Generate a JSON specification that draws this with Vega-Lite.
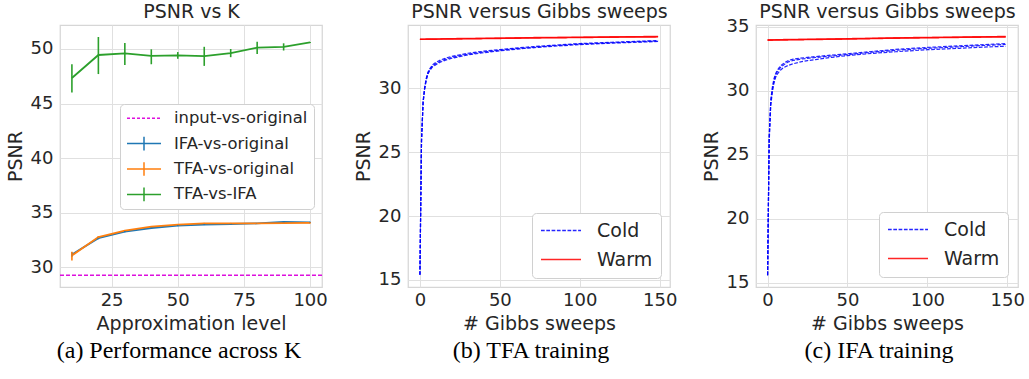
{
  "$schema": "https://vega.github.io/schema/vega-lite/v6.json",
  "background": "white",
  "padding": {"left": 5, "top": 1, "right": 0, "bottom": 0},
  "spacing": 86,
  "bounds": "flush",
  "config": {
    "view": {"stroke": "#d6d6d6", "strokeWidth": 1.25},
    "axis": {"labelFont": "DejaVu Sans", "labelFontSize": 18, "labelColor": "#262626", "titleFont": "DejaVu Sans", "titleFontSize": 19, "titleFontWeight": "normal", "titleColor": "#262626", "ticks": false, "domain": false, "gridColor": "#e0e0e0", "gridWidth": 1, "labelPadding": 7, "titlePadding": 5},
    "axisX": {"labelPadding": 4, "titlePadding": 5},
    "title": {"font": "Liberation Serif", "fontSize": 24, "fontWeight": "normal", "color": "#000000", "orient": "bottom", "anchor": "middle", "frame": "group", "offset": 6},
    "legend": {"labelFont": "DejaVu Sans", "labelColor": "#262626", "fillColor": "white", "strokeColor": "#d0d0d0", "cornerRadius": 4, "symbolStrokeWidth": 1.5}
  },
  "datasets": {
    "perf": [
      {"series": "IFA-vs-original", "k": 10, "psnr": 31.15, "lo": 30.95, "hi": 31.35},
      {"series": "IFA-vs-original", "k": 20, "psnr": 32.65, "lo": 32.55, "hi": 32.75},
      {"series": "IFA-vs-original", "k": 30, "psnr": 33.25, "lo": 33.2, "hi": 33.3},
      {"series": "IFA-vs-original", "k": 40, "psnr": 33.58, "lo": 33.53, "hi": 33.63},
      {"series": "IFA-vs-original", "k": 50, "psnr": 33.8, "lo": 33.75, "hi": 33.85},
      {"series": "IFA-vs-original", "k": 60, "psnr": 33.9, "lo": 33.85, "hi": 33.95},
      {"series": "IFA-vs-original", "k": 70, "psnr": 33.95, "lo": 33.9, "hi": 34.0},
      {"series": "IFA-vs-original", "k": 80, "psnr": 34.0, "lo": 33.95, "hi": 34.05},
      {"series": "IFA-vs-original", "k": 90, "psnr": 34.15, "lo": 34.1, "hi": 34.2},
      {"series": "IFA-vs-original", "k": 100, "psnr": 34.1, "lo": 34.05, "hi": 34.15},
      {"series": "TFA-vs-original", "k": 10, "psnr": 31.05, "lo": 30.6, "hi": 31.4},
      {"series": "TFA-vs-original", "k": 20, "psnr": 32.75, "lo": 32.65, "hi": 32.85},
      {"series": "TFA-vs-original", "k": 30, "psnr": 33.35, "lo": 33.3, "hi": 33.4},
      {"series": "TFA-vs-original", "k": 40, "psnr": 33.7, "lo": 33.65, "hi": 33.75},
      {"series": "TFA-vs-original", "k": 50, "psnr": 33.9, "lo": 33.85, "hi": 33.95},
      {"series": "TFA-vs-original", "k": 60, "psnr": 34.0, "lo": 33.95, "hi": 34.05},
      {"series": "TFA-vs-original", "k": 70, "psnr": 34.0, "lo": 33.95, "hi": 34.05},
      {"series": "TFA-vs-original", "k": 80, "psnr": 34.0, "lo": 33.95, "hi": 34.05},
      {"series": "TFA-vs-original", "k": 90, "psnr": 34.02, "lo": 33.97, "hi": 34.07},
      {"series": "TFA-vs-original", "k": 100, "psnr": 34.05, "lo": 34.0, "hi": 34.1},
      {"series": "TFA-vs-IFA", "k": 10, "psnr": 47.34, "lo": 46.0, "hi": 48.6},
      {"series": "TFA-vs-IFA", "k": 20, "psnr": 49.45, "lo": 47.7, "hi": 51.1},
      {"series": "TFA-vs-IFA", "k": 30, "psnr": 49.6, "lo": 48.53, "hi": 50.55},
      {"series": "TFA-vs-IFA", "k": 40, "psnr": 49.36, "lo": 48.6, "hi": 49.97},
      {"series": "TFA-vs-IFA", "k": 50, "psnr": 49.42, "lo": 49.1, "hi": 49.72},
      {"series": "TFA-vs-IFA", "k": 60, "psnr": 49.35, "lo": 48.45, "hi": 50.2},
      {"series": "TFA-vs-IFA", "k": 70, "psnr": 49.63, "lo": 49.25, "hi": 50.0},
      {"series": "TFA-vs-IFA", "k": 80, "psnr": 50.12, "lo": 49.55, "hi": 50.67},
      {"series": "TFA-vs-IFA", "k": 90, "psnr": 50.2, "lo": 49.86, "hi": 50.52},
      {"series": "TFA-vs-IFA", "k": 100, "psnr": 50.6, "lo": 50.55, "hi": 50.65}
    ],
    "baseline": [
      {"series": "input-vs-original", "psnr": 29.24}
    ],
    "tfa": [
      {"mode": "Cold", "run": 1, "s": 0, "v": 15.4}, {"mode": "Cold", "run": 1, "s": 1, "v": 26.0}, {"mode": "Cold", "run": 1, "s": 2, "v": 29.0}, {"mode": "Cold", "run": 1, "s": 3, "v": 30.1}, {"mode": "Cold", "run": 1, "s": 4, "v": 30.8}, {"mode": "Cold", "run": 1, "s": 5, "v": 31.25}, {"mode": "Cold", "run": 1, "s": 6, "v": 31.5}, {"mode": "Cold", "run": 1, "s": 8, "v": 31.85}, {"mode": "Cold", "run": 1, "s": 10, "v": 32.02}, {"mode": "Cold", "run": 1, "s": 13, "v": 32.22}, {"mode": "Cold", "run": 1, "s": 16, "v": 32.36}, {"mode": "Cold", "run": 1, "s": 20, "v": 32.5}, {"mode": "Cold", "run": 1, "s": 25, "v": 32.62}, {"mode": "Cold", "run": 1, "s": 30, "v": 32.74}, {"mode": "Cold", "run": 1, "s": 40, "v": 32.9}, {"mode": "Cold", "run": 1, "s": 50, "v": 33.03}, {"mode": "Cold", "run": 1, "s": 65, "v": 33.2}, {"mode": "Cold", "run": 1, "s": 80, "v": 33.34}, {"mode": "Cold", "run": 1, "s": 100, "v": 33.5}, {"mode": "Cold", "run": 1, "s": 120, "v": 33.6}, {"mode": "Cold", "run": 1, "s": 135, "v": 33.67}, {"mode": "Cold", "run": 1, "s": 149, "v": 33.73},
      {"mode": "Cold", "run": 2, "s": 0, "v": 15.4}, {"mode": "Cold", "run": 2, "s": 1, "v": 25.8}, {"mode": "Cold", "run": 2, "s": 2, "v": 28.85}, {"mode": "Cold", "run": 2, "s": 3, "v": 29.95}, {"mode": "Cold", "run": 2, "s": 4, "v": 30.65}, {"mode": "Cold", "run": 2, "s": 5, "v": 31.1}, {"mode": "Cold", "run": 2, "s": 6, "v": 31.35}, {"mode": "Cold", "run": 2, "s": 8, "v": 31.69}, {"mode": "Cold", "run": 2, "s": 10, "v": 31.85}, {"mode": "Cold", "run": 2, "s": 13, "v": 32.05}, {"mode": "Cold", "run": 2, "s": 16, "v": 32.2}, {"mode": "Cold", "run": 2, "s": 20, "v": 32.35}, {"mode": "Cold", "run": 2, "s": 25, "v": 32.48}, {"mode": "Cold", "run": 2, "s": 30, "v": 32.61}, {"mode": "Cold", "run": 2, "s": 40, "v": 32.78}, {"mode": "Cold", "run": 2, "s": 50, "v": 32.93}, {"mode": "Cold", "run": 2, "s": 65, "v": 33.11}, {"mode": "Cold", "run": 2, "s": 80, "v": 33.26}, {"mode": "Cold", "run": 2, "s": 100, "v": 33.42}, {"mode": "Cold", "run": 2, "s": 120, "v": 33.53}, {"mode": "Cold", "run": 2, "s": 135, "v": 33.6}, {"mode": "Cold", "run": 2, "s": 149, "v": 33.66},
      {"mode": "Cold", "run": 3, "s": 0, "v": 15.4}, {"mode": "Cold", "run": 3, "s": 1, "v": 25.9}, {"mode": "Cold", "run": 3, "s": 2, "v": 28.92}, {"mode": "Cold", "run": 3, "s": 3, "v": 30.02}, {"mode": "Cold", "run": 3, "s": 4, "v": 30.72}, {"mode": "Cold", "run": 3, "s": 5, "v": 31.17}, {"mode": "Cold", "run": 3, "s": 6, "v": 31.42}, {"mode": "Cold", "run": 3, "s": 8, "v": 31.77}, {"mode": "Cold", "run": 3, "s": 10, "v": 31.93}, {"mode": "Cold", "run": 3, "s": 13, "v": 32.13}, {"mode": "Cold", "run": 3, "s": 16, "v": 32.28}, {"mode": "Cold", "run": 3, "s": 20, "v": 32.42}, {"mode": "Cold", "run": 3, "s": 25, "v": 32.55}, {"mode": "Cold", "run": 3, "s": 30, "v": 32.67}, {"mode": "Cold", "run": 3, "s": 40, "v": 32.84}, {"mode": "Cold", "run": 3, "s": 50, "v": 32.98}, {"mode": "Cold", "run": 3, "s": 65, "v": 33.15}, {"mode": "Cold", "run": 3, "s": 80, "v": 33.3}, {"mode": "Cold", "run": 3, "s": 100, "v": 33.46}, {"mode": "Cold", "run": 3, "s": 120, "v": 33.56}, {"mode": "Cold", "run": 3, "s": 135, "v": 33.63}, {"mode": "Cold", "run": 3, "s": 149, "v": 33.7},
      {"mode": "Warm", "run": 4, "s": 0, "v": 33.83}, {"mode": "Warm", "run": 4, "s": 25, "v": 33.87}, {"mode": "Warm", "run": 4, "s": 50, "v": 33.91}, {"mode": "Warm", "run": 4, "s": 75, "v": 33.95}, {"mode": "Warm", "run": 4, "s": 100, "v": 33.98}, {"mode": "Warm", "run": 4, "s": 125, "v": 34.01}, {"mode": "Warm", "run": 4, "s": 149, "v": 34.03},
      {"mode": "Warm", "run": 5, "s": 0, "v": 33.85}, {"mode": "Warm", "run": 5, "s": 25, "v": 33.9}, {"mode": "Warm", "run": 5, "s": 50, "v": 33.94}, {"mode": "Warm", "run": 5, "s": 75, "v": 33.98}, {"mode": "Warm", "run": 5, "s": 100, "v": 34.01}, {"mode": "Warm", "run": 5, "s": 125, "v": 34.04}, {"mode": "Warm", "run": 5, "s": 149, "v": 34.06},
      {"mode": "Warm", "run": 6, "s": 0, "v": 33.82}, {"mode": "Warm", "run": 6, "s": 25, "v": 33.85}, {"mode": "Warm", "run": 6, "s": 50, "v": 33.89}, {"mode": "Warm", "run": 6, "s": 75, "v": 33.93}, {"mode": "Warm", "run": 6, "s": 100, "v": 33.96}, {"mode": "Warm", "run": 6, "s": 125, "v": 33.99}, {"mode": "Warm", "run": 6, "s": 149, "v": 34.01}
    ],
    "ifa": [
      {"mode": "Cold", "run": 1, "s": 0, "v": 15.6}, {"mode": "Cold", "run": 1, "s": 1, "v": 26.5}, {"mode": "Cold", "run": 1, "s": 2, "v": 29.3}, {"mode": "Cold", "run": 1, "s": 3, "v": 30.3}, {"mode": "Cold", "run": 1, "s": 4, "v": 30.95}, {"mode": "Cold", "run": 1, "s": 5, "v": 31.35}, {"mode": "Cold", "run": 1, "s": 6, "v": 31.6}, {"mode": "Cold", "run": 1, "s": 8, "v": 31.95}, {"mode": "Cold", "run": 1, "s": 10, "v": 32.15}, {"mode": "Cold", "run": 1, "s": 13, "v": 32.38}, {"mode": "Cold", "run": 1, "s": 16, "v": 32.48}, {"mode": "Cold", "run": 1, "s": 20, "v": 32.55}, {"mode": "Cold", "run": 1, "s": 25, "v": 32.62}, {"mode": "Cold", "run": 1, "s": 30, "v": 32.68}, {"mode": "Cold", "run": 1, "s": 40, "v": 32.8}, {"mode": "Cold", "run": 1, "s": 50, "v": 32.9}, {"mode": "Cold", "run": 1, "s": 65, "v": 33.08}, {"mode": "Cold", "run": 1, "s": 80, "v": 33.24}, {"mode": "Cold", "run": 1, "s": 100, "v": 33.4}, {"mode": "Cold", "run": 1, "s": 120, "v": 33.52}, {"mode": "Cold", "run": 1, "s": 135, "v": 33.62}, {"mode": "Cold", "run": 1, "s": 149, "v": 33.7},
      {"mode": "Cold", "run": 2, "s": 0, "v": 15.6}, {"mode": "Cold", "run": 2, "s": 1, "v": 26.3}, {"mode": "Cold", "run": 2, "s": 2, "v": 29.15}, {"mode": "Cold", "run": 2, "s": 3, "v": 30.15}, {"mode": "Cold", "run": 2, "s": 4, "v": 30.8}, {"mode": "Cold", "run": 2, "s": 5, "v": 31.22}, {"mode": "Cold", "run": 2, "s": 6, "v": 31.48}, {"mode": "Cold", "run": 2, "s": 8, "v": 31.82}, {"mode": "Cold", "run": 2, "s": 10, "v": 32.03}, {"mode": "Cold", "run": 2, "s": 13, "v": 32.27}, {"mode": "Cold", "run": 2, "s": 16, "v": 32.38}, {"mode": "Cold", "run": 2, "s": 20, "v": 32.47}, {"mode": "Cold", "run": 2, "s": 25, "v": 32.55}, {"mode": "Cold", "run": 2, "s": 30, "v": 32.61}, {"mode": "Cold", "run": 2, "s": 40, "v": 32.73}, {"mode": "Cold", "run": 2, "s": 50, "v": 32.84}, {"mode": "Cold", "run": 2, "s": 65, "v": 33.02}, {"mode": "Cold", "run": 2, "s": 80, "v": 33.17}, {"mode": "Cold", "run": 2, "s": 100, "v": 33.33}, {"mode": "Cold", "run": 2, "s": 120, "v": 33.45}, {"mode": "Cold", "run": 2, "s": 135, "v": 33.55}, {"mode": "Cold", "run": 2, "s": 149, "v": 33.63},
      {"mode": "Cold", "run": 3, "s": 0, "v": 15.6}, {"mode": "Cold", "run": 3, "s": 1, "v": 26.0}, {"mode": "Cold", "run": 3, "s": 2, "v": 28.9}, {"mode": "Cold", "run": 3, "s": 3, "v": 29.9}, {"mode": "Cold", "run": 3, "s": 4, "v": 30.6}, {"mode": "Cold", "run": 3, "s": 5, "v": 31.05}, {"mode": "Cold", "run": 3, "s": 6, "v": 31.3}, {"mode": "Cold", "run": 3, "s": 8, "v": 31.62}, {"mode": "Cold", "run": 3, "s": 10, "v": 31.82}, {"mode": "Cold", "run": 3, "s": 13, "v": 32.0}, {"mode": "Cold", "run": 3, "s": 16, "v": 32.12}, {"mode": "Cold", "run": 3, "s": 20, "v": 32.25}, {"mode": "Cold", "run": 3, "s": 25, "v": 32.37}, {"mode": "Cold", "run": 3, "s": 30, "v": 32.45}, {"mode": "Cold", "run": 3, "s": 40, "v": 32.62}, {"mode": "Cold", "run": 3, "s": 50, "v": 32.76}, {"mode": "Cold", "run": 3, "s": 65, "v": 32.93}, {"mode": "Cold", "run": 3, "s": 80, "v": 33.06}, {"mode": "Cold", "run": 3, "s": 100, "v": 33.22}, {"mode": "Cold", "run": 3, "s": 120, "v": 33.33}, {"mode": "Cold", "run": 3, "s": 135, "v": 33.42}, {"mode": "Cold", "run": 3, "s": 149, "v": 33.49},
      {"mode": "Warm", "run": 4, "s": 0, "v": 33.97}, {"mode": "Warm", "run": 4, "s": 25, "v": 34.02}, {"mode": "Warm", "run": 4, "s": 50, "v": 34.06}, {"mode": "Warm", "run": 4, "s": 75, "v": 34.12}, {"mode": "Warm", "run": 4, "s": 100, "v": 34.16}, {"mode": "Warm", "run": 4, "s": 125, "v": 34.2}, {"mode": "Warm", "run": 4, "s": 149, "v": 34.23},
      {"mode": "Warm", "run": 5, "s": 0, "v": 34.0}, {"mode": "Warm", "run": 5, "s": 25, "v": 34.05}, {"mode": "Warm", "run": 5, "s": 50, "v": 34.09}, {"mode": "Warm", "run": 5, "s": 75, "v": 34.15}, {"mode": "Warm", "run": 5, "s": 100, "v": 34.19}, {"mode": "Warm", "run": 5, "s": 125, "v": 34.23}, {"mode": "Warm", "run": 5, "s": 149, "v": 34.26},
      {"mode": "Warm", "run": 6, "s": 0, "v": 33.95}, {"mode": "Warm", "run": 6, "s": 25, "v": 34.0}, {"mode": "Warm", "run": 6, "s": 50, "v": 34.04}, {"mode": "Warm", "run": 6, "s": 75, "v": 34.1}, {"mode": "Warm", "run": 6, "s": 100, "v": 34.14}, {"mode": "Warm", "run": 6, "s": 125, "v": 34.18}, {"mode": "Warm", "run": 6, "s": 149, "v": 34.21}
    ]
  },
  "resolve": {"scale": {"color": "independent", "strokeDash": "independent"}, "legend": {"color": "independent", "strokeDash": "independent"}},
  "hconcat": [
    {
      "width": 262, "height": 262,
      "title": {"text": "(a) Performance across K", "dx": -12},
      "layer": [
        {
          "data": {"name": "baseline"},
          "mark": {"type": "rule", "strokeDash": [4, 2], "strokeWidth": 1.5, "opacity": 1},
          "encoding": {
            "y": {"field": "psnr", "type": "quantitative", "scale": {"domain": [28.17, 52.2], "nice": false, "zero": false}, "title": "PSNR"},
            "color": {"field": "series", "type": "nominal", "scale": {"domain": ["input-vs-original", "IFA-vs-original", "TFA-vs-original", "TFA-vs-IFA"], "range": ["#dd10dd", "#1f77b4", "#ff7f0e", "#2ca02c"]}}
          }
        },
        {
          "data": {"name": "perf"},
          "mark": {"type": "line", "strokeWidth": 1.8},
          "encoding": {
            "x": {"field": "k", "type": "quantitative", "scale": {"domain": [5.5, 104.5], "nice": false, "zero": false}, "axis": {"values": [25, 50, 75, 100], "title": "Approximation level"}},
            "y": {"field": "psnr", "type": "quantitative", "axis": {"values": [30, 35, 40, 45, 50]}, "title": "PSNR"},
            "color": {"field": "series", "type": "nominal",
              "scale": {"domain": ["input-vs-original", "IFA-vs-original", "TFA-vs-original", "TFA-vs-IFA"], "range": ["#dd10dd", "#1f77b4", "#ff7f0e", "#2ca02c"]},
              "legend": {"title": null, "orient": "none", "legendX": 60, "legendY": 79, "labelFontSize": 16.4, "padding": 6, "symbolSize": 1156, "clipHeight": 16.4, "rowPadding": 8.4, "labelOffset": 12,
                "encode": {"symbols": {"update": {"shape": {"signal": "datum.value === 'input-vs-original' ? 'M-1,0H1' : 'M-1,0H1M0,-0.4V0.4'"}, "strokeDash": {"signal": "datum.value === 'input-vs-original' ? [3, 2] : [1, 0]"}, "strokeWidth": {"value": 1.5}}}}}}
          }
        },
        {
          "data": {"name": "perf"},
          "mark": {"type": "rule", "strokeWidth": 1.6},
          "encoding": {
            "x": {"field": "k", "type": "quantitative", "axis": {"orient": "top", "title": "PSNR vs K", "labels": false, "grid": false, "ticks": false, "domain": false, "titlePadding": 4}},
            "y": {"field": "lo", "type": "quantitative", "title": "PSNR"},
            "y2": {"field": "hi"},
            "color": {"field": "series", "type": "nominal", "scale": {"domain": ["input-vs-original", "IFA-vs-original", "TFA-vs-original", "TFA-vs-IFA"], "range": ["#dd10dd", "#1f77b4", "#ff7f0e", "#2ca02c"]}}
          }
        }
      ],
      "resolve": {"axis": {"x": "independent"}}
    },
    {
      "width": 262, "height": 262,
      "title": {"text": "(b) TFA training", "dx": -8},
      "data": {"name": "tfa"},
      "layer": [
        {
          "transform": [{"filter": "datum.mode === 'Cold'"}],
          "mark": {"type": "line", "strokeWidth": 1.2, "opacity": 0.85},
          "encoding": {
            "x": {"field": "s", "type": "quantitative", "scale": {"domain": [-7.45, 156.45], "nice": false, "zero": false}, "axis": {"values": [0, 50, 100, 150], "title": "# Gibbs sweeps"}},
            "y": {"field": "v", "type": "quantitative", "scale": {"domain": [14.45, 34.95], "nice": false, "zero": false}, "axis": {"values": [15, 20, 25, 30], "title": "PSNR"}},
            "color": {"field": "mode", "type": "nominal", "scale": {"domain": ["Cold", "Warm"], "range": ["#0000ff", "#ff0000"]},
              "legend": {"title": null, "orient": "bottom-right", "offset": 9, "labelFontSize": 19, "padding": 8, "symbolSize": 1600, "clipHeight": 19, "rowPadding": 9, "labelOffset": 15}},
            "strokeDash": {"field": "mode", "type": "nominal", "scale": {"domain": ["Cold", "Warm"], "range": [[3.7, 1.6], [1, 0]]}},
            "detail": {"field": "run", "type": "nominal"}
          }
        },
        {
          "transform": [{"filter": "datum.mode === 'Warm'"}],
          "mark": {"type": "line", "strokeWidth": 1.2, "opacity": 0.8},
          "encoding": {
            "x": {"field": "s", "type": "quantitative", "axis": {"orient": "top", "title": "PSNR versus Gibbs sweeps", "labels": false, "grid": false, "ticks": false, "domain": false, "titlePadding": 4}},
            "y": {"field": "v", "type": "quantitative", "title": "PSNR"},
            "color": {"field": "mode", "type": "nominal", "scale": {"domain": ["Cold", "Warm"], "range": ["#0000ff", "#ff0000"]}},
            "strokeDash": {"field": "mode", "type": "nominal", "scale": {"domain": ["Cold", "Warm"], "range": [[3.7, 1.6], [1, 0]]}},
            "detail": {"field": "run", "type": "nominal"}
          }
        }
      ],
      "resolve": {"axis": {"x": "independent"}}
    },
    {
      "width": 262, "height": 262,
      "title": {"text": "(c) IFA training", "dx": -8},
      "data": {"name": "ifa"},
      "layer": [
        {
          "transform": [{"filter": "datum.mode === 'Cold'"}],
          "mark": {"type": "line", "strokeWidth": 1.2, "opacity": 0.85},
          "encoding": {
            "x": {"field": "s", "type": "quantitative", "scale": {"domain": [-7.25, 156.7], "nice": false, "zero": false}, "axis": {"values": [0, 50, 100, 150], "title": "# Gibbs sweeps"}},
            "y": {"field": "v", "type": "quantitative", "scale": {"domain": [14.68, 35.15], "nice": false, "zero": false}, "axis": {"values": [15, 20, 25, 30, 35], "title": "PSNR"}},
            "color": {"field": "mode", "type": "nominal", "scale": {"domain": ["Cold", "Warm"], "range": ["#0000ff", "#ff0000"]},
              "legend": {"title": null, "orient": "bottom-right", "offset": 10, "labelFontSize": 19, "padding": 8, "symbolSize": 1600, "clipHeight": 19, "rowPadding": 9, "labelOffset": 15}},
            "strokeDash": {"field": "mode", "type": "nominal", "scale": {"domain": ["Cold", "Warm"], "range": [[3.7, 1.6], [1, 0]]}},
            "detail": {"field": "run", "type": "nominal"}
          }
        },
        {
          "transform": [{"filter": "datum.mode === 'Warm'"}],
          "mark": {"type": "line", "strokeWidth": 1.2, "opacity": 0.8},
          "encoding": {
            "x": {"field": "s", "type": "quantitative", "axis": {"orient": "top", "title": "PSNR versus Gibbs sweeps", "labels": false, "grid": false, "ticks": false, "domain": false, "titlePadding": 4}},
            "y": {"field": "v", "type": "quantitative", "title": "PSNR"},
            "color": {"field": "mode", "type": "nominal", "scale": {"domain": ["Cold", "Warm"], "range": ["#0000ff", "#ff0000"]}},
            "strokeDash": {"field": "mode", "type": "nominal", "scale": {"domain": ["Cold", "Warm"], "range": [[3.7, 1.6], [1, 0]]}},
            "detail": {"field": "run", "type": "nominal"}
          }
        }
      ],
      "resolve": {"axis": {"x": "independent"}}
    }
  ]
}
